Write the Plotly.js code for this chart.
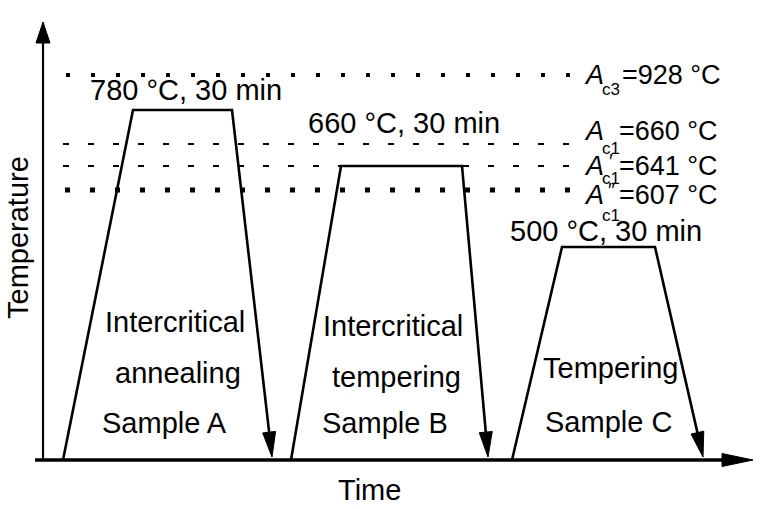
<!DOCTYPE html>
<html><head><meta charset="utf-8">
<script src="https://cdn.plot.ly/plotly-3.0.1.min.js"></script>
<style>html,body{margin:0;padding:0;background:#fff}</style>
</head><body><div id="chart" style="width:768px;height:509px"></div>
<script>
// Schematic heat-treatment routes: time (schematic units) vs temperature level (schematic units)
const timeA = [20, 90, 189, 229];
const levelA = [0, 350, 350, 3];
const timeB = [248, 298, 419, 445];
const levelB = [0, 294, 294, 3];
const timeC = [469, 519, 612, 660];
const levelC = [0, 213, 213, 3];
const holdTemps = [780, 660, 500];
const holdMinutes = [30, 30, 30];
const processLabels = [['Intercritical', 'annealing', 'Sample A'], ['Intercritical', 'tempering', 'Sample B'], ['Tempering', 'Sample C']];
const critSubs = ['c3', 'c1', 'c1', 'c1'];
const critPrimes = ['', '', '′', '″'];
const critValues = [928, 660, 641, 607];
const critLevels = [385, 316, 294, 270];
const axisTitles = ['Time', 'Temperature'];

// ---- styling / layout (not data) ----
const FONT = 'Liberation Sans, Arial, sans-serif';
const FS = 29;
const FSC = 27;
const BLACK = '#000';
const critStart = [23, 20, 20, 22];
const critEnd = 528;
const critStyle = [
  {width: 4, dash: '4px,21px'},
  {width: 2, dash: '6px,19px'},
  {width: 2, dash: '6px,19px'},
  {width: 5, dash: '5px,20px'}
];

function arrowHead(x0, y0, x1, y1, L, W) {
  const dx = x1 - x0, dy = y1 - y0, d = Math.hypot(dx, dy);
  const ux = dx / d, uy = dy / d;
  const bx = x1 - ux * L, by = y1 - uy * L;
  const nx = -uy, ny = ux;
  return {base: [bx, by], x: [x1, bx + nx * W, bx - nx * W, x1], y: [y1, by + ny * W, by - ny * W, y1]};
}

const traces = [];
// critical temperature reference lines
critLevels.forEach((lv, i) => {
  traces.push({x: [critStart[i], critEnd], y: [lv, lv], mode: 'lines', line: {color: BLACK, width: critStyle[i].width, dash: critStyle[i].dash}, hoverinfo: 'skip'});
});
// routes
[[timeA, levelA], [timeB, levelB], [timeC, levelC]].forEach(([t, v]) => {
  const n = t.length;
  const h = arrowHead(t[n - 2], v[n - 2], t[n - 1], v[n - 1], 25, 6.5);
  traces.push({x: t.slice(0, n - 1).concat([h.base[0]]), y: v.slice(0, n - 1).concat([h.base[1]]), mode: 'lines', line: {color: BLACK, width: 2.6}, hoverinfo: 'skip'});
  traces.push({x: h.x, y: h.y, mode: 'lines', fill: 'toself', fillcolor: BLACK, line: {color: BLACK, width: 1}, hoverinfo: 'skip'});
});
// axes with arrows
const yh = arrowHead(0, 0, 0, 438, 21, 7);
traces.push({x: [0, yh.base[0]], y: [0, yh.base[1]], mode: 'lines', line: {color: BLACK, width: 2.2}, hoverinfo: 'skip'});
traces.push({x: yh.x, y: yh.y, mode: 'lines', fill: 'toself', fillcolor: BLACK, line: {color: BLACK, width: 1}, hoverinfo: 'skip'});
const xh = arrowHead(-8, 0, 710, 0, 31, 6.5);
traces.push({x: [-8, xh.base[0]], y: [0, 0], mode: 'lines', line: {color: BLACK, width: 3.5}, hoverinfo: 'skip'});
traces.push({x: xh.x, y: xh.y, mode: 'lines', fill: 'toself', fillcolor: BLACK, line: {color: BLACK, width: 1}, hoverinfo: 'skip'});

const ann = [];
function txt(text, x, y, opts) {
  ann.push(Object.assign({text: text, x: x, y: y, xref: 'x', yref: 'y', showarrow: false, font: {family: FONT, size: FS, color: BLACK}, xanchor: 'center', yanchor: 'middle'}, opts || {}));
}
// holding labels
const holdPos = [[143, 370], [361, 337], [563, 229]];
holdTemps.forEach((T, i) => txt(T + ' °C, ' + holdMinutes[i] + ' min', holdPos[i][0], holdPos[i][1]));
// process labels
const procPos = [[[132, 138], [135, 87], [121, 37]], [[350, 134], [353, 83], [342, 37]], [[567, 92], [565, 38]]];
processLabels.forEach((lines, i) => lines.forEach((s, j) => txt(s, procPos[i][j][0], procPos[i][j][1])));
// critical temperature labels: italic A, lowered subscript, optional prime, value
const critCapY = [385, 329, 294, 265.5];
const critSubY = [371, 312, 282, 245];
const critEqX = [577, 574, 574, 574];
critLevels.forEach((lv, i) => {
  txt('<i>A</i>', 539, critCapY[i], {xanchor: 'left', font: {family: FONT, size: FSC, color: BLACK}});
  txt(critSubs[i], 557, critSubY[i], {xanchor: 'left', font: {family: FONT, size: 17, color: BLACK}});
  if (critPrimes[i]) txt(critPrimes[i], 568, critCapY[i] + 5, {xanchor: 'center', font: {family: FONT, size: 20, color: BLACK}});
  txt('=' + critValues[i] + ' °C', critEqX[i], critCapY[i], {xanchor: 'left', font: {family: FONT, size: FSC, color: BLACK}});
});
// axis titles
txt(axisTitles[0], 326, -30);
txt(axisTitles[1], -25, 222, {textangle: -90});

const layout = {
  width: 768, height: 509,
  margin: {l: 0, r: 0, t: 0, b: 0, pad: 0},
  paper_bgcolor: '#fff', plot_bgcolor: '#fff',
  showlegend: false,
  xaxis: {range: [-43, 725], visible: false, fixedrange: true},
  yaxis: {range: [-49, 460], visible: false, fixedrange: true},
  annotations: ann,
  hovermode: false
};
Plotly.newPlot('chart', traces, layout, {staticPlot: true, displayModeBar: false});
</script>
</body></html>
